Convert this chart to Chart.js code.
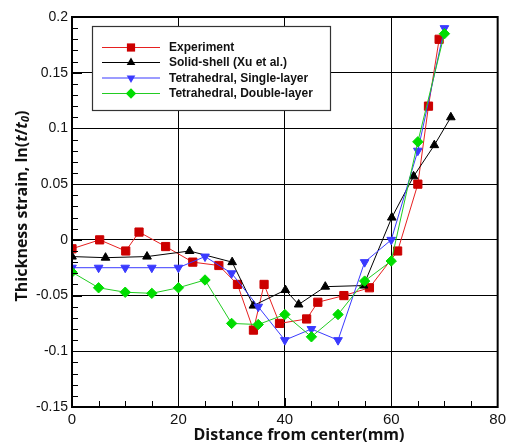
<!DOCTYPE html>
<html>
<head>
<meta charset="utf-8">
<script src="https://cdn.jsdelivr.net/npm/chart.js@4.4.1/dist/chart.umd.min.js"></script>
<style>
  html, body { margin: 0; padding: 0; background: #fff; }
  #wrap { width: 510px; height: 446px; }
</style>
</head>
<body>
<div id="wrap"><canvas id="strainChart" width="510" height="446"></canvas></div>
<script>
// values
const expX = [0, 5.2, 10.1, 12.6, 17.6, 22.7, 27.6, 31.1, 34.1, 36.1, 39.0, 44.1, 46.2, 51.1, 55.9, 61.2, 65.0, 67.0, 69.0];
const expY = [-0.008, 0.0, -0.010, 0.007, -0.006, -0.020, -0.023, -0.040, -0.081, -0.040, -0.075, -0.071, -0.056, -0.050, -0.043, -0.010, 0.050, 0.120, 0.180];

const shellX = [0, 6.3, 14.1, 22.1, 30.1, 34.1, 40.1, 42.6, 47.6, 54.8, 60.1, 64.2, 68.1, 71.2];
const shellY = [-0.015, -0.016, -0.015, -0.010, -0.020, -0.059, -0.045, -0.058, -0.042, -0.041, 0.020, 0.057, 0.085, 0.110];

const singleX = [0, 5, 10, 15, 20, 25, 30, 35, 40, 45, 50, 55, 60, 65, 70];
const singleY = [-0.025, -0.025, -0.025, -0.025, -0.025, -0.015, -0.030, -0.060, -0.090, -0.080, -0.090, -0.020, 0.0, 0.080, 0.190];

const doubleX = [0, 5, 10, 15, 20, 25, 30, 35, 40, 45, 50, 55, 60, 65, 70];
const doubleY = [-0.029, -0.043, -0.047, -0.048, -0.043, -0.036, -0.075, -0.076, -0.067, -0.087, -0.067, -0.037, -0.019, 0.088, 0.185];

const seriesNames = ['Experiment', 'Solid-shell (Xu et al.)', 'Tetrahedral, Single-layer', 'Tetrahedral, Double-layer'];
const xTicks = [0, 20, 40, 60, 80];
const yTicks = [-0.15, -0.1, -0.05, 0, 0.05, 0.1, 0.15, 0.2];

function toPoints(xs, ys) {
    return xs.map((x, i) => ({ x: x, y: ys[i] }));
}

const styles = [
    { line: '#e62020', fill: '#cc0000', shape: 'rect', radius: 5.8, rot: 0 },
    { line: '#000000', fill: '#000000', shape: 'triangle', radius: 5, rot: 0 },
    { line: '#3a3aff', fill: '#3a3aff', shape: 'triangle', radius: 5, rot: 180 },
    { line: '#22cc22', fill: '#00dd00', shape: 'rectRot', radius: 5.2, rot: 0 }
];

const allData = [toPoints(expX, expY), toPoints(shellX, shellY), toPoints(singleX, singleY), toPoints(doubleX, doubleY)];

const datasets = allData.map((d, i) => ({
    label: seriesNames[i],
    data: d,
    borderColor: styles[i].line,
    borderWidth: 1,
    backgroundColor: styles[i].fill,
    pointBackgroundColor: styles[i].fill,
    pointBorderColor: styles[i].fill,
    pointBorderWidth: 1,
    pointStyle: styles[i].shape,
    pointRadius: styles[i].radius,
    pointRotation: styles[i].rot,
    order: 3 - i
}));

function drawMarker(ctx, shape, x, y, r, rot, color) {
    ctx.save();
    ctx.fillStyle = color;
    ctx.beginPath();
    if (shape === 'rect') {
        const s = Math.SQRT1_2 * r;
        ctx.rect(x - s, y - s, 2 * s, 2 * s);
    } else if (shape === 'rectRot') {
        ctx.moveTo(x, y - r); ctx.lineTo(x + r, y); ctx.lineTo(x, y + r); ctx.lineTo(x - r, y);
    } else {
        const dir = rot === 180 ? -1 : 1;
        ctx.moveTo(x, y - dir * r);
        ctx.lineTo(x + r * 0.866, y + dir * r * 0.5);
        ctx.lineTo(x - r * 0.866, y + dir * r * 0.5);
    }
    ctx.closePath();
    ctx.fill();
    ctx.restore();
}

const titleFont = '"Open Sans", "Noto Sans", sans-serif';

// frame, inner ticks, legend box and axis titles
const decorPlugin = {
    id: 'decor',
    afterDraw(chart) {
        const ctx = chart.ctx;
        const a = chart.chartArea;
        const xs = chart.scales.x, ys = chart.scales.y;
        ctx.save();
        ctx.strokeStyle = '#000';
        ctx.lineWidth = 1;
        ctx.beginPath();
        for (let v = 5; v < 80; v += 5) {
            const px = Math.round(xs.getPixelForValue(v)) + 0.5;
            const len = v % 20 === 0 ? 9 : 6;
            ctx.moveTo(px, a.bottom);
            ctx.lineTo(px, a.bottom - len);
        }
        for (let k = -14; k < 20; k++) {
            const py = Math.round(ys.getPixelForValue(k / 100)) + 0.5;
            const len = k % 5 === 0 ? 10 : 6;
            ctx.moveTo(a.left, py);
            ctx.lineTo(a.left + len, py);
        }
        ctx.stroke();

        ctx.lineWidth = 2;
        ctx.strokeRect(a.left, a.top, a.right - a.left, a.bottom - a.top);

        // legend
        const box = { x: 92, y: 26, w: 238, h: 84 };
        ctx.fillStyle = '#fff';
        ctx.fillRect(box.x, box.y, box.w, box.h);
        ctx.lineWidth = 1.2;
        ctx.strokeStyle = '#333';
        ctx.strokeRect(box.x + 0.5, box.y + 0.5, box.w, box.h);
        const rows = [47.5, 62.5, 78, 93.5];
        ctx.font = 'bold 12px "Liberation Sans", Arial, sans-serif';
        ctx.textBaseline = 'middle';
        ctx.textAlign = 'left';
        rows.forEach((ry, i) => {
            ctx.strokeStyle = styles[i].line;
            ctx.lineWidth = 1.2;
            ctx.beginPath();
            ctx.moveTo(102, ry);
            ctx.lineTo(160, ry);
            ctx.stroke();
            drawMarker(ctx, styles[i].shape, 131, ry, styles[i].radius, styles[i].rot, styles[i].fill);
            ctx.fillStyle = '#111';
            ctx.fillText(seriesNames[i], 169, ry + 0.5);
        });

        // x title
        ctx.fillStyle = '#111';
        ctx.font = 'bold 16px ' + titleFont;
        ctx.textAlign = 'center';
        ctx.textBaseline = 'middle';
        ctx.fillText('Distance from center(mm)', 299, 435);

        // y title with italic t and subscript
        const parts = [
            { t: 'Thickness strain, ln(', f: 'bold 16px ' + titleFont, dy: 0 },
            { t: 't', f: 'italic bold 16px ' + titleFont, dy: 0 },
            { t: '/', f: 'bold 16px ' + titleFont, dy: 0 },
            { t: 't', f: 'italic bold 16px ' + titleFont, dy: 0 },
            { t: '0', f: 'italic bold 11px ' + titleFont, dy: 4 },
            { t: ')', f: 'bold 16px ' + titleFont, dy: 0 }
        ];
        let total = 0;
        parts.forEach(p => { ctx.font = p.f; p.w = ctx.measureText(p.t).width; total += p.w; });
        ctx.translate(22, 206);
        ctx.rotate(-Math.PI / 2);
        ctx.textAlign = 'left';
        let cx = -total / 2;
        parts.forEach(p => {
            ctx.font = p.f;
            ctx.fillText(p.t, cx, p.dy);
            cx += p.w;
        });
        ctx.restore();
    }
};

new Chart(document.getElementById('strainChart').getContext('2d'), {
    type: 'line',
    data: { datasets },
    options: {
        responsive: false,
        animation: false,
        layout: { padding: { top: 17, right: 12, left: 0, bottom: 0 } },
        plugins: {
            legend: { display: false },
            tooltip: { enabled: false }
        },
        scales: {
            x: {
                type: 'linear',
                min: 0,
                max: 80,
                afterBuildTicks: s => { s.ticks = xTicks.map(v => ({ value: v })); },
                afterFit: s => { s.height = 39; },
                border: { display: false },
                grid: { color: '#000', lineWidth: 1, drawTicks: false },
                ticks: {
                    color: '#111',
                    padding: 4,
                    maxRotation: 0,
                    font: { family: '"Liberation Sans", Arial, sans-serif', size: 15 }
                }
            },
            y: {
                type: 'linear',
                min: -0.15,
                max: 0.2,
                afterBuildTicks: s => { s.ticks = yTicks.map(v => ({ value: v })); },
                afterFit: s => { s.width = 72; },
                border: { display: false },
                grid: { color: '#000', lineWidth: 1, drawTicks: false },
                ticks: {
                    color: '#111',
                    padding: 4,
                    callback: v => String(parseFloat(v.toFixed(2))),
                    font: { family: '"Liberation Sans", Arial, sans-serif', size: 14 }
                }
            }
        }
    },
    plugins: [decorPlugin]
});
</script>
</body>
</html>
